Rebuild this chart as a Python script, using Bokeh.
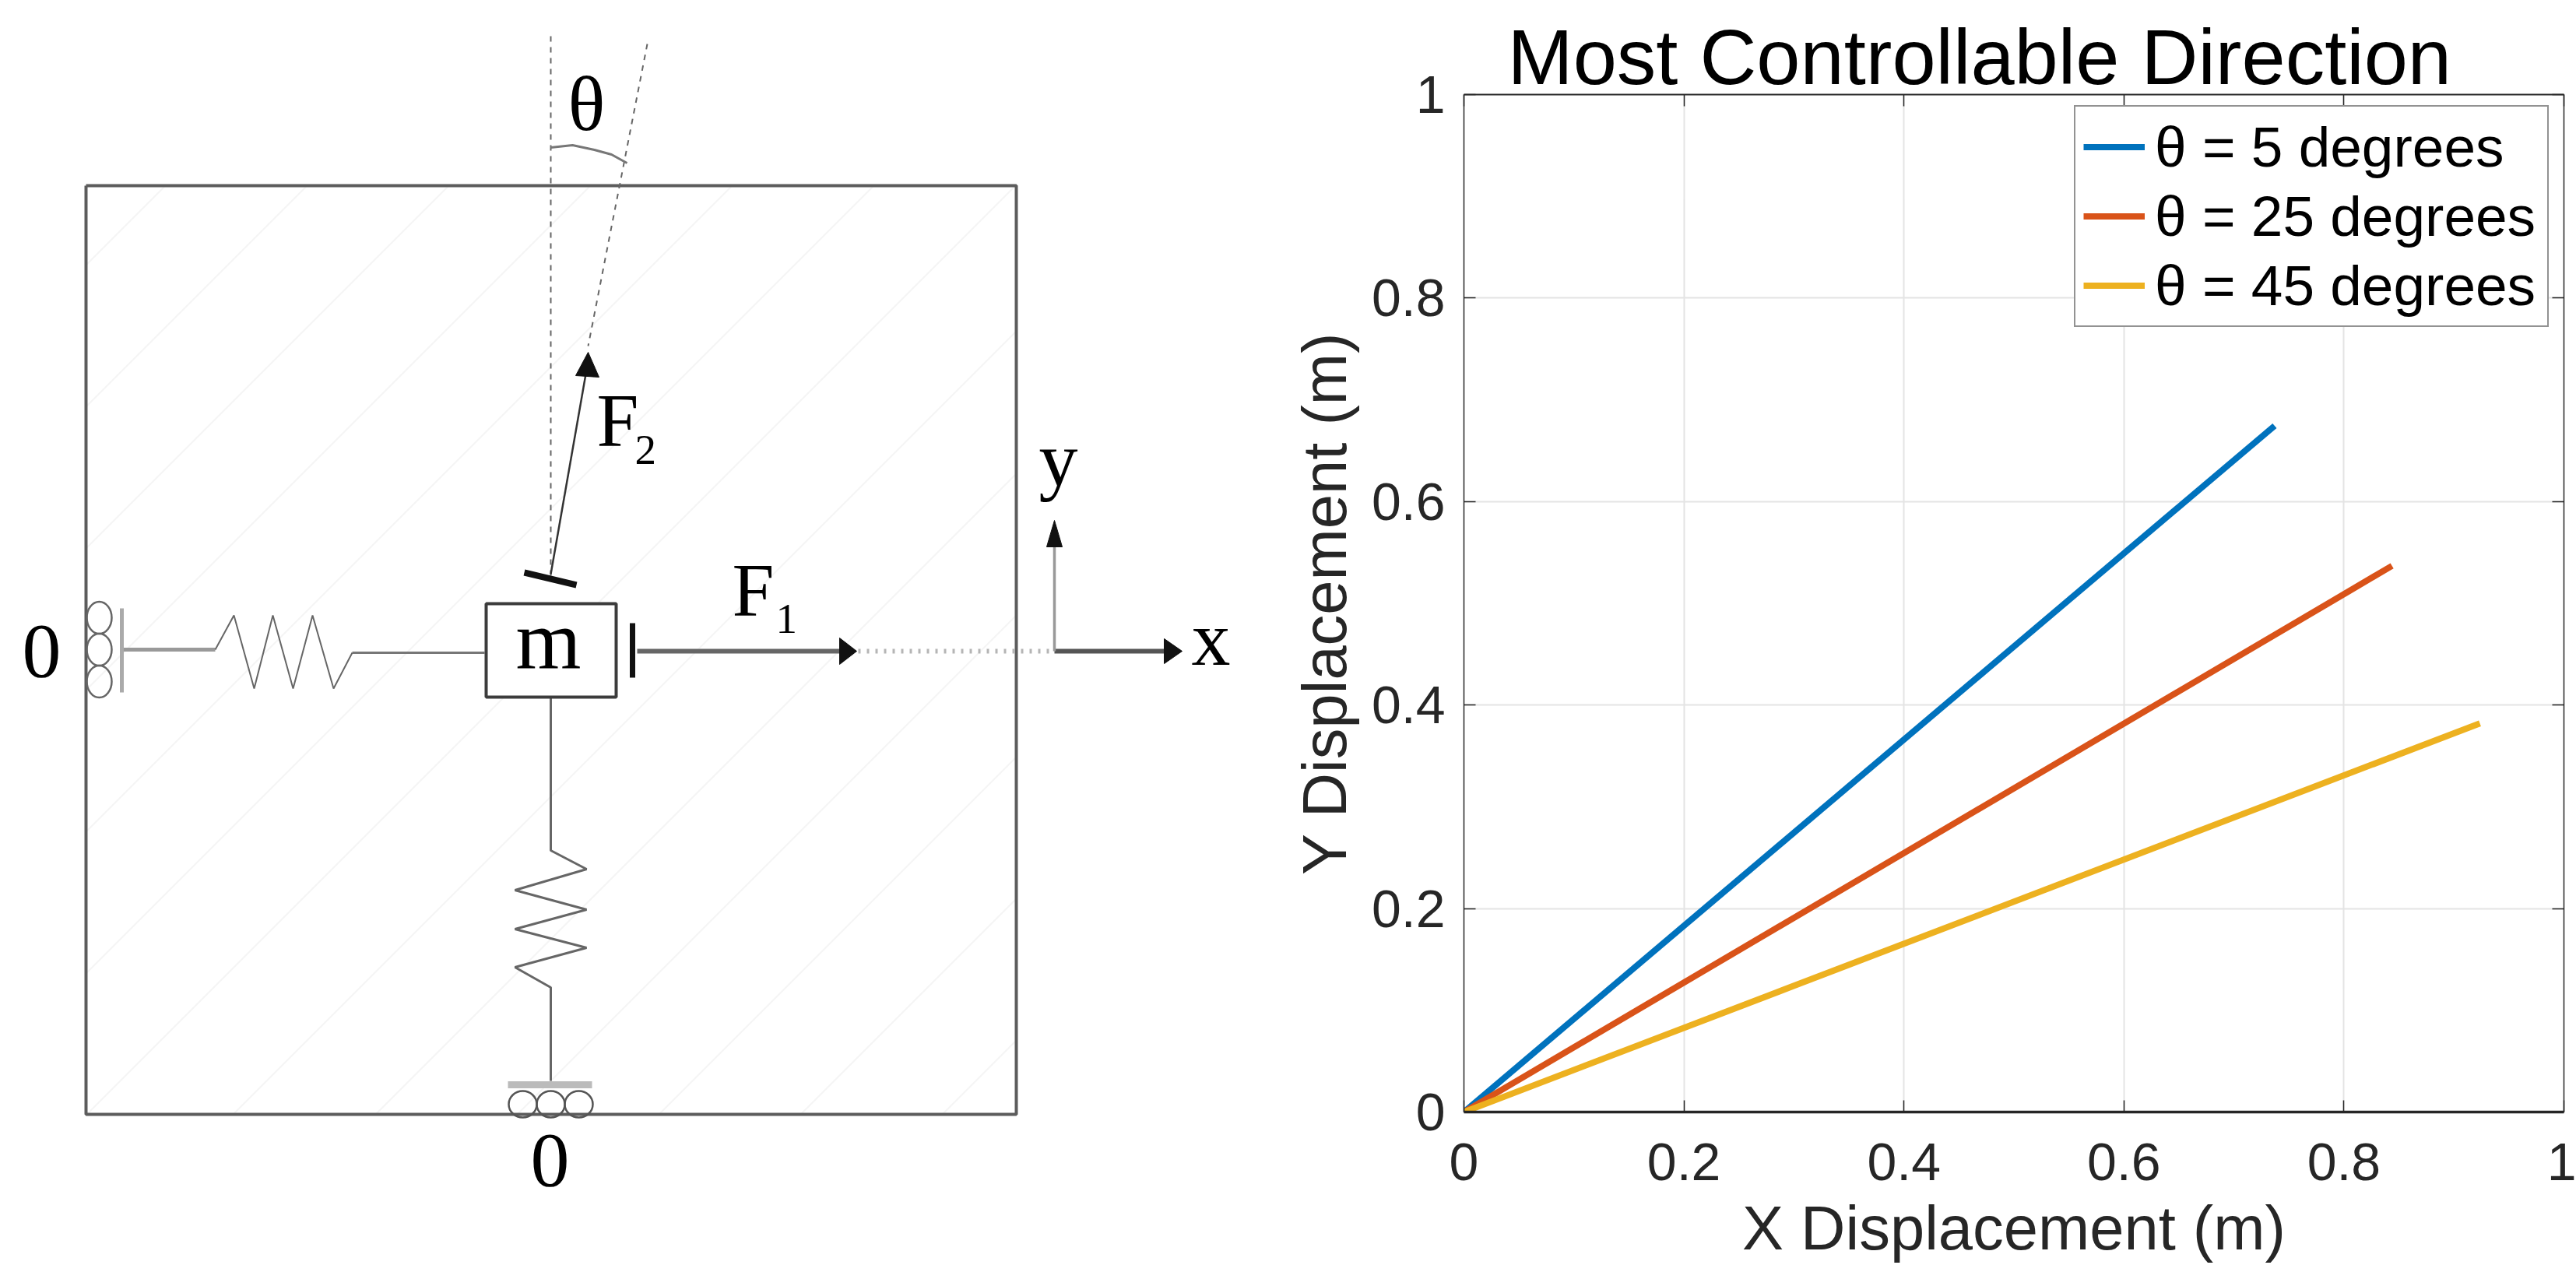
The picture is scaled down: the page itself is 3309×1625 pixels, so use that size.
from bokeh.plotting import figure
from bokeh.embed import file_html
from bokeh.resources import INLINE
from bokeh.core.properties import value
from bokeh.models import Range1d, LinearAxis, FixedTicker, Legend, LegendItem

# ---------- chart data ----------
TITLE = "Most Controllable Direction"
X_LABEL = "X Displacement (m)"
Y_LABEL = "Y Displacement (m)"
TICKS = [0, 0.2, 0.4, 0.6, 0.8, 1]
TICK_LABELS = {0: "0", 0.2: "0.2", 0.4: "0.4", 0.6: "0.6", 0.8: "0.8", 1: "1"}
LABELS = ["θ = 5 degrees", "θ = 25 degrees", "θ = 45 degrees"]
COLORS = ["#0072BD", "#D95319", "#EDB120"]
X_5 = [0, 0.737]
Y_5 = [0, 0.6745]
X_25 = [0, 0.8437]
Y_25 = [0, 0.5368]
X_45 = [0, 0.9236]
Y_45 = [0, 0.382]

# ---------- schematic geometry (picture units) ----------
BOX_X = [110, 1305, 1305, 110, 110]
BOX_Y = [238, 238, 1431, 1431, 238]
HATCH_C = [450, 632, 814, 996, 1178, 1360, 1542, 1730, 1913, 2095, 2277, 2459, 2641]
SPRING_L_X = [276, 300, 326, 350, 376, 401, 428, 452]
SPRING_L_Y = [834, 790, 884, 790, 884, 790, 884, 838]
WIRE_L1_X = [158, 276]
WIRE_L1_Y = [834, 834]
WIRE_L2_X = [452, 622]
WIRE_L2_Y = [838, 838]
SPRING_B_X = [707, 707, 753, 661, 753, 661, 753, 661, 707, 707]
SPRING_B_Y = [895, 1092, 1116, 1143, 1168, 1193, 1217, 1242, 1268, 1388]
PLATE_L_X = [156, 156]
PLATE_L_Y = [781, 889]
ROLL_L_X = [127, 127, 127]
ROLL_L_Y = [793, 834, 875]
PLATE_B_X = [652, 760]
PLATE_B_Y = [1393, 1393]
ROLL_B_X = [671, 707, 743]
ROLL_B_Y = [1418, 1418, 1418]
MASS = dict(left=624, right=791, top=775, bottom=895)
DASH_V_X = [707, 707]
DASH_V_Y = [46, 740]
DASH_A_X = [831, 755]
DASH_A_Y = [56, 444]
ARC_X = [707, 735, 763, 785, 805]
ARC_Y = [189, 186, 192, 198, 209]
F2_X = [707, 752]
F2_Y = [737, 480]
F2_HEAD_X = [755, 739, 769]
F2_HEAD_Y = [452, 482, 484]
TEE2_X = [673, 740]
TEE2_Y = [735, 751]
TEE1_X = [812, 812]
TEE1_Y = [800, 870]
F1_X = [818, 1080]
F1_Y = [836, 836]
F1_HEAD_X = [1100, 1078, 1078]
F1_HEAD_Y = [836, 819, 853]
DOTS_X = [1102, 1352]
DOTS_Y = [836, 836]
AX_X_X = [1354, 1496]
AX_X_Y = [836, 836]
AX_X_HEAD_X = [1518, 1495, 1495]
AX_X_HEAD_Y = [836, 820, 852]
AX_Y_X = [1354, 1354]
AX_Y_Y = [836, 698]
AX_Y_HEAD_X = [1354, 1344, 1364]
AX_Y_HEAD_Y = [668, 702, 702]
SERIF_TEXT = ["θ", "F", "2", "F", "1", "y", "x", "m", "0", "0"]
SERIF_X = [729, 766, 815, 940, 996, 1334, 1530, 662, 28, 681]
SERIF_Y = [133, 540, 577, 758, 794, 590, 820, 822, 836, 1490]
SERIF_SIZE = ["100px", "97px", "55px", "97px", "55px", "100px", "100px", "108px", "100px", "100px"]

# ---------- schematic ----------
d = figure(width=1600, height=1625, x_range=Range1d(0, 1600), y_range=Range1d(1625, 0),
           toolbar_location=None, output_backend="svg", min_border=0)
d.axis.visible = False
d.grid.visible = False
d.outline_line_color = None

hx, hy = [], []
for c in HATCH_C:
    x0 = min(1305, c - 238)
    x1 = max(110, c - 1431)
    hx.append([x0, x1])
    hy.append([c - x0, c - x1])
d.multi_line(hx, hy, line_color="#f5f5f5", line_width=2)

d.line(BOX_X, BOX_Y, line_color="#5c5c5c", line_width=4)
d.line(DASH_V_X, DASH_V_Y, line_color="#666666", line_width=2, line_dash="7 7")
d.line(DASH_A_X, DASH_A_Y, line_color="#666666", line_width=2, line_dash="7 7")
d.line(ARC_X, ARC_Y, line_color="#777777", line_width=3)
d.line(WIRE_L1_X, WIRE_L1_Y, line_color="#999999", line_width=5)
d.line(WIRE_L2_X, WIRE_L2_Y, line_color="#777777", line_width=3)
d.line(SPRING_L_X, SPRING_L_Y, line_color="#666666", line_width=2)
d.line(SPRING_B_X, SPRING_B_Y, line_color="#666666", line_width=3)
d.line(PLATE_L_X, PLATE_L_Y, line_color="#aaaaaa", line_width=5)
d.line(PLATE_B_X, PLATE_B_Y, line_color="#bbbbbb", line_width=9)
d.ellipse(ROLL_L_X, ROLL_L_Y, width=32, height=41, fill_color=None, line_color="#666666", line_width=2.5)
d.ellipse(ROLL_B_X, ROLL_B_Y, width=36, height=34, fill_color=None, line_color="#555555", line_width=2.5)
d.quad(left=[MASS["left"]], right=[MASS["right"]], top=[MASS["top"]], bottom=[MASS["bottom"]],
       fill_color="white", line_color="#3c3c3c", line_width=4)
d.line(F2_X, F2_Y, line_color="#333333", line_width=2.5)
d.patch(F2_HEAD_X, F2_HEAD_Y, fill_color="#111111", line_color="#111111")
d.line(TEE2_X, TEE2_Y, line_color="#111111", line_width=8)
d.line(TEE1_X, TEE1_Y, line_color="#111111", line_width=7)
d.line(F1_X, F1_Y, line_color="#666666", line_width=6)
d.patch(F1_HEAD_X, F1_HEAD_Y, fill_color="#111111", line_color="#111111")
d.line(DOTS_X, DOTS_Y, line_color="#b5b5b5", line_width=6, line_dash="3 8")
d.line(AX_X_X, AX_X_Y, line_color="#555555", line_width=6)
d.patch(AX_X_HEAD_X, AX_X_HEAD_Y, fill_color="#111111", line_color="#111111")
d.line(AX_Y_X, AX_Y_Y, line_color="#999999", line_width=3.5)
d.patch(AX_Y_HEAD_X, AX_Y_HEAD_Y, fill_color="#111111", line_color="#111111")
d.text(SERIF_X, SERIF_Y, text=SERIF_TEXT, text_font=value("Liberation Serif"),
       text_font_size=SERIF_SIZE, text_color="#000000", text_baseline="alphabetic", text_align="left")

# ---------- chart ----------
p = figure(width=1709, height=1617, x_range=Range1d(0, 1), y_range=Range1d(0, 1),
           toolbar_location=None, output_backend="svg", title=TITLE,
           min_border_left=280, min_border_right=16, min_border_top=113, min_border_bottom=197,
           x_axis_label=X_LABEL, y_axis_label=Y_LABEL)
p.outline_line_color = None
p.styles = {"position": "absolute", "left": "1600px", "top": "8px"}
p.title.align = "left"
p.title.offset = 56
p.title.standoff = -14
p.title.text_font = "Liberation Sans"
p.title.text_font_size = "101px"
p.title.text_font_style = "normal"
p.title.text_color = "#000000"

bottom_ax = p.below[0]
left_ax = p.left[0]
top = LinearAxis()
right = LinearAxis()
p.add_layout(top, "above")
p.add_layout(right, "right")
for ax in (bottom_ax, left_ax, top, right):
    ax.ticker = FixedTicker(ticks=TICKS)
    ax.major_tick_in = 15
    ax.major_tick_out = 0
    ax.minor_tick_line_color = None
    ax.major_tick_line_color = "#262626"
    ax.major_tick_line_width = 1.5
    ax.axis_line_color = "#262626"
for ax in (top, right):
    ax.major_label_overrides = {t: "" for t in TICKS}
    ax.major_label_text_font_size = "1px"
    ax.major_label_standoff = 0
top.axis_line_width = 2
right.axis_line_width = 1.5
for ax, sd, lsd, lw in ((bottom_ax, 40, 14, 3.5), (left_ax, 24, 13, 1.5)):
    ax.major_label_overrides = TICK_LABELS
    ax.major_label_text_font = "Liberation Sans"
    ax.major_label_text_font_size = "68px"
    ax.major_label_text_color = "#262626"
    ax.major_label_standoff = sd
    ax.axis_label_text_font = "Liberation Sans"
    ax.axis_label_text_font_size = "79.5px"
    ax.axis_label_text_font_style = "normal"
    ax.axis_label_text_color = "#262626"
    ax.axis_label_standoff = lsd
    ax.axis_line_width = lw
left_ax.major_label_orientation = "horizontal"

p.grid.ticker = FixedTicker(ticks=TICKS)
p.grid.grid_line_color = "#e4e4e4"
p.grid.grid_line_width = 2

r1 = p.line(X_5, Y_5, line_color=COLORS[0], line_width=8)
r2 = p.line(X_25, Y_25, line_color=COLORS[1], line_width=8)
r3 = p.line(X_45, Y_45, line_color=COLORS[2], line_width=8)

legend = Legend(items=[LegendItem(label=LABELS[0], renderers=[r1]),
                       LegendItem(label=LABELS[1], renderers=[r2]),
                       LegendItem(label=LABELS[2], renderers=[r3])],
                location=(784, 1008), margin=0, padding=10, spacing=6,
                glyph_width=79, glyph_height=75, label_height=75, label_width=494, label_standoff=13,
                label_text_font="Liberation Sans", label_text_font_size="73px", label_text_color="#000000",
                label_text_baseline="middle",
                border_line_color="#262626", border_line_width=2, background_fill_color="white", background_fill_alpha=1)
p.add_layout(legend, "center")

open("out.html", "w").write(file_html([d, p], INLINE))
